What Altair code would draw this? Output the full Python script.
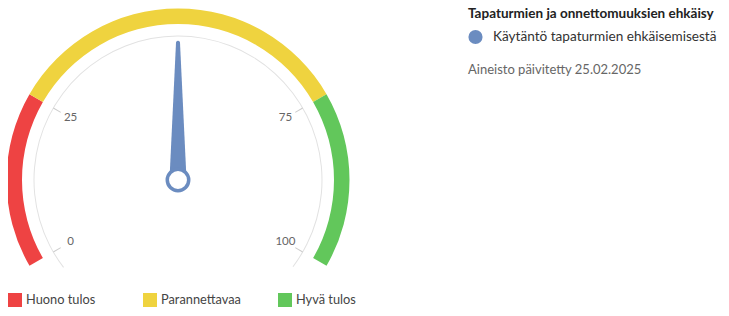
import math
import altair as alt
import pandas as pd

# ---- data ----
band_names = ["Huono tulos", "Parannettavaa", "Hyvä tulos"]
band_start = [0, 25, 75]
band_end = [25, 75, 100]
band_colors = ["#ee4343", "#efd33f", "#62c75b"]

tick_values = [0, 25, 75, 100]
tick_labels = ["0", "25", "75", "100"]

series_name = ["Käytäntö tapaturmien ehkäisemisestä"]
series_value = [50]
series_color = ["#6b8cc0"]

chart_title = "Tapaturmien ja onnettomuuksien ehkäisy"
note_text = ["Aineisto päivitetty 25.02.2025"]

# ---- layout ----
CX, CY = 170, 172
FONT = "Lato"

bands = pd.DataFrame({"name": band_names, "start": band_start, "end": band_end})
ticks = pd.DataFrame({"value": tick_values, "label": tick_labels})
needle = pd.DataFrame({"series": series_name, "value": series_value})
note = pd.DataFrame({"note": note_text})
track = pd.DataFrame({"k": [0]})

theta_scale = alt.Scale(domain=[0, 100], range=[4 * math.pi / 3, 8 * math.pi / 3], nice=False, zero=False)
angle_scale = alt.Scale(domain=[0, 100], range=[240, 480], nice=False, zero=False)

band_layer = alt.Chart(bands).mark_arc(radius=171.5, radius2=156).encode(
    theta=alt.Theta("start:Q", scale=theta_scale, stack=None),
    theta2="end:Q",
    color=alt.Color(
        "name:N",
        scale=alt.Scale(domain=band_names, range=band_colors),
        legend=alt.Legend(
            title=None, orient="none", legendX=0, legendY=285,
            direction="horizontal", columns=3, columnPadding=37, gridAlign="all",
            symbolType="square", symbolSize=196, symbolStrokeWidth=0,
            labelFontSize=12.8, labelColor="#444", labelOffset=4, labelFont=FONT,
            padding=0,
        ),
    ),
    x=alt.value(CX),
    y=alt.value(CY),
)

track_layer = alt.Chart(track).mark_arc(radius=144.5, radius2=143.5, color="#e2e2e2").encode(
    theta=alt.value(4.06),
    theta2=alt.value(8.50),
    x=alt.value(CX),
    y=alt.value(CY),
)

tick_layer = alt.Chart(ticks).mark_point(
    shape="M 0 -1 L 0 -0.94", size=82944, filled=False,
    stroke="#cccccc", strokeWidth=1, opacity=1,
).encode(
    angle=alt.Angle("value:Q", scale=angle_scale),
    x=alt.value(CX),
    y=alt.value(CY),
)

label_layer = alt.Chart(ticks).mark_text(
    fontSize=11.5, color="#666666", font=FONT, align="center", baseline="middle",
).encode(
    theta=alt.Theta("value:Q", scale=theta_scale, stack=None),
    radius=alt.value(124),
    text="label:N",
    x=alt.value(CX),
    y=alt.value(CY),
)

NEEDLE = "M -0.061 0 L -0.014 -0.985 Q 0 -1.005 0.014 -0.985 L 0.061 0 Z"

needle_layer = alt.Chart(needle).mark_point(
    shape=NEEDLE, filled=True, size=78400, opacity=1,
).encode(
    angle=alt.Angle("value:Q", scale=angle_scale),
    fill=alt.Fill(
        "series:N",
        scale=alt.Scale(domain=series_name, range=series_color),
        legend=alt.Legend(
            title=chart_title, orient="none", legendX=460, legendY=-1,
            titleFontSize=13.5, titleFontWeight="bold", titleColor="#222",
            titleFont=FONT, titleLimit=600, titlePadding=9,
            labelLimit=600, labelFontSize=13.6, labelColor="#333", labelFont=FONT,
            labelOffset=10, symbolType="circle", symbolSize=200,
            symbolStrokeWidth=0, padding=0,
        ),
    ),
    x=alt.value(CX),
    y=alt.value(CY),
)

hub_layer = alt.Chart(needle).mark_point(
    shape="circle", size=460, fill="white", stroke=series_color[0],
    strokeWidth=3.5, opacity=1, fillOpacity=1, filled=False,
).encode(
    x=alt.value(CX),
    y=alt.value(CY),
)

note_layer = alt.Chart(note).mark_text(
    align="left", baseline="alphabetic", fontSize=13, color="#666666", font=FONT,
).encode(
    text="note:N",
    x=alt.value(460),
    y=alt.value(66),
)

chart = alt.layer(
    band_layer, track_layer, tick_layer, label_layer, needle_layer, hub_layer, note_layer
).properties(
    width=713, height=300, padding=0,
    autosize=alt.AutoSizeParams(type="none"),
).configure(font=FONT).configure_view(stroke=None)

chart.save("out.html", embed_options={"renderer": "svg", "actions": False})
